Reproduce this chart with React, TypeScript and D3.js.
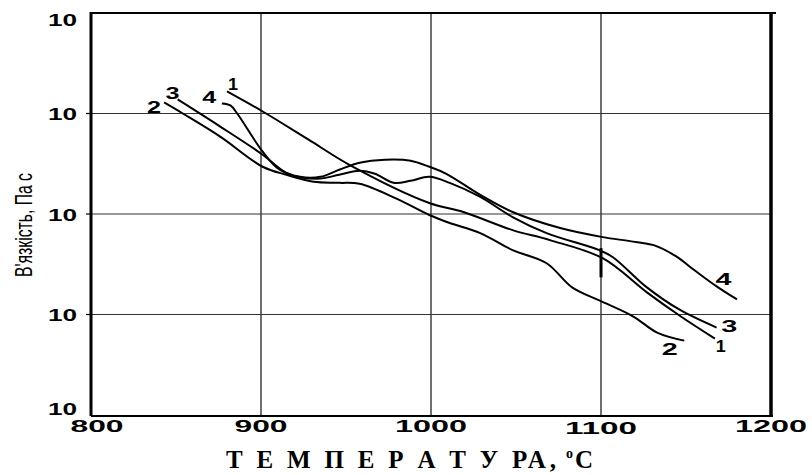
import React from "react";
import * as d3 from "d3";

// Temperature (°C) and lg(viscosity)
const temp1 = [880, 901, 928, 952, 999, 1019, 1048, 1070, 1101, 1127, 1147, 1167];
const lg1 = [3.22, 3.02, 2.74, 2.49, 2.11, 2.02, 1.84, 1.74, 1.56, 1.22, 0.98, 0.76];

const temp2 = [843, 854, 876, 901, 915, 931, 946, 958, 980, 999, 1011, 1029, 1048, 1068, 1083, 1099, 1119, 1133, 1149];
const lg2 = [3.11, 3.0, 2.77, 2.47, 2.39, 2.32, 2.31, 2.3, 2.15, 1.99, 1.91, 1.81, 1.64, 1.51, 1.27, 1.14, 0.98, 0.82, 0.74];

const temp3 = [851, 876, 901, 915, 933, 946, 958, 967, 978, 988, 999, 1011, 1029, 1048, 1068, 1099, 1107, 1127, 1146, 1168];
const lg3 = [3.14, 2.87, 2.59, 2.41, 2.35, 2.39, 2.43, 2.4, 2.31, 2.33, 2.37, 2.31, 2.17, 1.97, 1.81, 1.64, 1.57, 1.27, 1.05, 0.87];

const temp4 = [877, 882, 886, 901, 911, 923, 935, 946, 958, 973, 988, 999, 1009, 1029, 1048, 1076, 1101, 1117, 1131, 1144, 1155, 1168, 1180];
const lg4 = [3.1, 3.08, 3.0, 2.62, 2.44, 2.37, 2.37, 2.44, 2.51, 2.54, 2.53, 2.47, 2.4, 2.19, 2.02, 1.86, 1.77, 1.73, 1.69, 1.58, 1.44, 1.28, 1.15];

// short vertical mark near 1100 °C
const markTemp = [1100, 1100];
const markLg = [1.66, 1.37];

const seriesNames = ["1", "2", "3", "4"];
const startLabelTemp = [883.5, 837, 848, 869.5];
const startLabelLg = [3.29, 3.06, 3.2, 3.16];
const endLabelTemp = [1170.5, 1140.5, 1175.5, 1172];
const endLabelLg = [0.68, 0.65, 0.88, 1.35];

const xTicks = [800, 900, 1000, 1100, 1200];
const yTicks = [0, 1, 2, 3, 4];
const yTickLabel = "10";
const xTitle = "Т Е М П Е Р А Т У РА, ";
const yTitle = "В'язкість, Па с";

const W = 812;
const H = 475;
const L = 91;
const R = 771;
const T = 13;
const B = 415;

export default function App() {
  const x = d3.scaleLinear().domain([800, 1200]).range([L, R]);
  const y = d3.scaleLinear().domain([0, 4]).range([B, T]);

  const series = [
    [temp1, lg1],
    [temp2, lg2],
    [temp3, lg3],
    [temp4, lg4],
  ];
  const line = d3
    .line<[number, number]>()
    .x((d) => x(d[0]))
    .y((d) => y(d[1]))
    .curve(d3.curveCatmullRom.alpha(0.5));

  const sans = "'Liberation Sans', Arial, sans-serif";
  const serif = "'Liberation Serif', 'Times New Roman', serif";

  return (
    <svg
      width={W}
      height={H}
      style={{ position: "absolute", left: 0, top: 0, background: "#fff" }}
    >
      {/* grid */}
      {xTicks.slice(1, -1).map((t) => (
        <line key={"gx" + t} x1={x(t)} x2={x(t)} y1={T} y2={B} stroke="#222" strokeWidth={1.3} />
      ))}
      {yTicks.slice(1, -1).map((t) => (
        <line key={"gy" + t} x1={L} x2={R} y1={y(t)} y2={y(t)} stroke="#333" strokeWidth={1.2} />
      ))}
      {yTicks.slice(1, -1).map((t) => (
        <line key={"ty" + t} x1={L - 5} x2={L} y1={y(t)} y2={y(t)} stroke="#000" strokeWidth={1.2} />
      ))}

      {/* frame */}
      <line x1={L} x2={R + 5} y1={T} y2={T} stroke="#000" strokeWidth={1.8} />
      <line x1={L} x2={L} y1={T - 1} y2={B + 1} stroke="#000" strokeWidth={3} />
      <line x1={R} x2={R} y1={T - 1} y2={B + 1} stroke="#000" strokeWidth={3.5} />
      <line x1={L} x2={R + 2} y1={B + 1} y2={B + 1} stroke="#000" strokeWidth={2} />

      {/* curves */}
      {series.map(([ts, ls], i) => (
        <path
          key={"s" + i}
          d={line(ts.map((t, j) => [t, ls[j]] as [number, number])) || ""}
          fill="none"
          stroke="#000"
          strokeWidth={2}
        />
      ))}
      <line
        x1={x(markTemp[0])}
        x2={x(markTemp[1])}
        y1={y(markLg[0])}
        y2={y(markLg[1])}
        stroke="#000"
        strokeWidth={3}
      />

      {/* curve labels */}
      {seriesNames.map((n, i) => (
        <text
          key={"sl" + i}
          x={x(startLabelTemp[i])}
          y={y(startLabelLg[i])}
          textAnchor="middle"
          dominantBaseline="central"
          fontFamily={sans}
          fontWeight="bold"
          fontSize={16}
          textLength={n === "1" ? 10 : 14}
          lengthAdjust="spacingAndGlyphs"
        >
          {n}
        </text>
      ))}
      {seriesNames.map((n, i) => (
        <text
          key={"el" + i}
          x={x(endLabelTemp[i])}
          y={y(endLabelLg[i])}
          textAnchor="middle"
          dominantBaseline="central"
          fontFamily={sans}
          fontWeight="bold"
          fontSize={16}
          textLength={n === "1" ? 10 : 16}
          lengthAdjust="spacingAndGlyphs"
        >
          {n}
        </text>
      ))}

      {/* y tick labels */}
      {yTicks.map((t) => (
        <text
          key={"yl" + t}
          x={77}
          y={Math.min(Math.max(y(t) + 1, 20), 409)}
          textAnchor="end"
          dominantBaseline="central"
          fontFamily={sans}
          fontWeight="bold"
          fontSize={16}
          textLength={29}
          lengthAdjust="spacingAndGlyphs"
        >
          {yTickLabel}
        </text>
      ))}

      {/* x tick labels */}
      {xTicks.map((t) => (
        <text
          key={"xl" + t}
          x={t === 800 ? x(t) + 6 : x(t)}
          y={t === 1100 ? 434 : 432}
          textAnchor="middle"
          fontFamily={sans}
          fontWeight="bold"
          fontSize={17}
          textLength={String(t).length === 3 ? 53 : 72}
          lengthAdjust="spacingAndGlyphs"
        >
          {String(t)}
        </text>
      ))}

      {/* x title */}
      <text
        x={226}
        y={468}
        fontFamily={serif}
        fontWeight="bold"
        fontSize={25}
        textLength={340}
        lengthAdjust="spacing"
        xmlSpace="preserve"
      >
        {xTitle}
      </text>
      <text x={566} y={458} fontFamily={serif} fontWeight="bold" fontSize={14}>
        o
      </text>
      <text x={575} y={468} fontFamily={serif} fontWeight="bold" fontSize={25}>
        C
      </text>

      {/* y title */}
      <text
        transform="translate(32,225) rotate(-90)"
        textAnchor="middle"
        fontFamily={sans}
        fontSize={24}
        textLength={104}
        lengthAdjust="spacingAndGlyphs"
      >
        {yTitle}
      </text>
    </svg>
  );
}
